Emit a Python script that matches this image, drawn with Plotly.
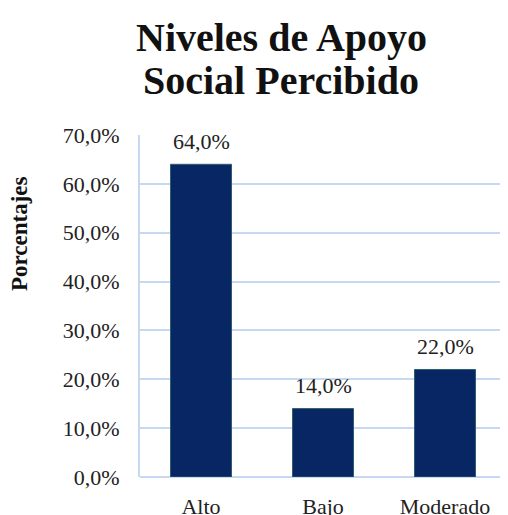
import plotly.graph_objects as go

categories = ["Alto", "Bajo", "Moderado"]
values = [0.64, 0.14, 0.22]
labels = ["64,0%", "14,0%", "22,0%"]

font_family = "Liberation Serif, DejaVu Serif, serif"

W, H = 500, 507          # page body adds an 8px margin
L, R, T, B = 132, 2, 127, 38
PW, PH = W - L - R, H - T - B


def px(x):
    return (x - 8 - L) / PW


def py(y):
    return (H - B - (y - 8)) / PH


fig = go.Figure(go.Bar(
    x=categories,
    y=values,
    marker=dict(color="#082663", line=dict(color="#2E5F6E", width=1)),
    cliponaxis=False,
))

for c, v, t in zip(categories, values, labels):
    fig.add_annotation(x=c, y=v, text=t, showarrow=False, yanchor="middle",
                       yshift=23, font=dict(family=font_family, size=22, color="#222222"))

fig.add_annotation(xref="paper", yref="paper", x=px(281), y=py(37),
                   text="<b>Niveles de Apoyo</b>", showarrow=False, yanchor="middle",
                   font=dict(family=font_family, size=40, color="#111111"))
fig.add_annotation(xref="paper", yref="paper", x=px(281), y=py(80),
                   text="<b>Social Percibido</b>", showarrow=False, yanchor="middle",
                   font=dict(family=font_family, size=40, color="#111111"))
fig.add_annotation(xref="paper", yref="paper", x=px(19), y=py(234),
                   text="<b>Porcentajes</b>", showarrow=False, textangle=-90,
                   xanchor="center", yanchor="middle",
                   font=dict(family=font_family, size=23, color="#111111"))

fig.update_layout(
    width=W, height=H,
    margin=dict(l=L, r=R, t=T, b=B, autoexpand=False),
    paper_bgcolor="white", plot_bgcolor="white",
    separators=",.",
    bargap=0.5,
    showlegend=False,
    font=dict(family=font_family, size=22, color="#222222"),
    xaxis=dict(
        showgrid=False, showline=False, ticks="", automargin=False,
        ticklabelstandoff=14,
        tickfont=dict(family=font_family, size=22, color="#222222"),
    ),
    yaxis=dict(
        range=[0, 0.7], dtick=0.1, tickformat=".1%", automargin=False,
        showgrid=True, gridcolor="#C6D9F0", gridwidth=2,
        showline=True, linecolor="#C6D9F0", linewidth=2,
        zeroline=True, zerolinecolor="#C6D9F0", zerolinewidth=2,
        ticks="", ticklabelstandoff=14,
        tickfont=dict(family=font_family, size=22, color="#222222"),
    ),
)

fig.write_html("out.html")
